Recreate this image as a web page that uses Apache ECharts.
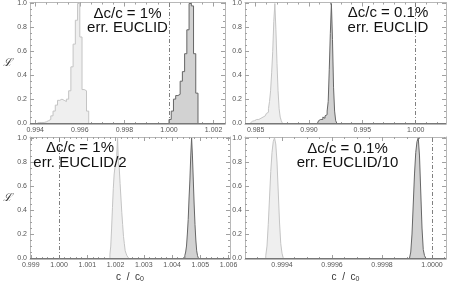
<!DOCTYPE html>
<html><head><meta charset="utf-8">
<script src="https://cdn.jsdelivr.net/npm/echarts@6/dist/echarts.min.js"></script>
<style>html,body{margin:0;padding:0;background:#fff}#c{width:452px;height:284px}</style>
</head><body><div id="c"></div>
<script>
// ---------- DATA ----------
// Panel A (top-left): Δc/c = 1%, err. EUCLID
const aLightEdges = [0.9941,0.9942,0.9943,0.9944,0.9945,0.9946,0.9947,0.9948,0.9949,0.9950,0.9951,0.9952,0.9953,0.9954,0.9955,0.9956,0.9957,0.9958,0.9959,0.9960,0.9961,0.9962,0.9963,0.9964];
const aLightVals  = [0.005,0.005,0.005,0.01,0.02,0.03,0.06,0.10,0.15,0.19,0.20,0.19,0.18,0.20,0.27,0.47,0.66,0.86,1.00,0.72,0.28,0.27,0.10];
const aDarkEdges  = [1.0000,1.0001,1.0002,1.0003,1.0004,1.0005,1.0006,1.0007,1.0008,1.0009,1.0010,1.0011,1.0012,1.0013];
const aDarkVals   = [0.03,0.10,0.20,0.23,0.24,0.35,0.43,0.58,0.78,1.00,0.98,0.58,0.25];
const aTicks = [0.994,0.996,0.998,1.000,1.002];

// Panel B (top-right): Δc/c = 0.1%, err. EUCLID
const bLightEdges = [0.9845,0.9846,0.9847,0.9848,0.9849,0.9850,0.9851,0.9852,0.9853,0.9854,0.9855,0.9856,0.9857,0.9858,0.9859,0.9860,0.9861,0.9862,0.9863,0.9864,0.9865,0.9866,0.9867,0.9868,0.9869,0.9870,0.9871,0.9872,0.9873,0.9874,0.9875];
const bLightVals  = [0.01,0.015,0.02,0.02,0.025,0.03,0.03,0.03,0.035,0.04,0.04,0.05,0.06,0.06,0.07,0.08,0.09,0.12,0.18,0.27,0.42,0.60,0.85,1.00,0.78,0.50,0.27,0.12,0.05,0.02];
const bDarkEdges  = [0.9908,0.9909,0.9910,0.9911,0.9912,0.9913,0.9914,0.9915,0.9916,0.9917,0.9918,0.9919,0.9920,0.9921,0.9922,0.9923,0.9924,0.9925,0.9926];
const bDarkVals   = [0.01,0.02,0.03,0.04,0.03,0.05,0.04,0.06,0.07,0.10,0.18,0.45,0.75,1.00,0.70,0.30,0.10,0.02];
const bTicks = [0.985,0.990,0.995,1.000];

// Panel C (bottom-left): Δc/c = 1%, err. EUCLID/2
const cLightEdges = [1.00180,1.00183,1.00186,1.00189,1.00192,1.00195,1.00198,1.00201,1.00204,1.00207,1.00210,1.00213,1.00216,1.00219,1.00222,1.00225,1.00228,1.00231,1.00234,1.00237,1.00240,1.00243,1.00246];
const cLightVals  = [0.03,0.10,0.25,0.42,0.58,0.70,0.76,0.80,0.85,1.00,0.80,0.75,0.62,0.50,0.38,0.28,0.18,0.12,0.06,0.04,0.02,0.01];
const cDarkEdges  = [1.00445,1.00448,1.00451,1.00454,1.00457,1.00460,1.00463,1.00466,1.00469,1.00472,1.00475,1.00478,1.00481,1.00484,1.00487,1.00490,1.00493];
const cDarkVals   = [0.02,0.05,0.10,0.20,0.32,0.50,0.65,0.85,1.00,0.85,0.65,0.45,0.28,0.15,0.06,0.02];
const cTicks = [0.999,1.000,1.001,1.002,1.003,1.004,1.005,1.006];

// Panel D (bottom-right): Δc/c = 0.1%, err. EUCLID/10
const dLightEdges = [0.999335,0.999340,0.999345,0.999350,0.999355,0.999360,0.999365,0.999370,0.999375,0.999380,0.999385,0.999390,0.999395,0.999400,0.999405];
const dLightVals  = [0.02,0.10,0.28,0.50,0.72,0.88,0.97,1.00,0.95,0.80,0.55,0.30,0.12,0.04];
const dDarkEdges  = [0.999910,0.999915,0.999920,0.999925,0.999930,0.999935,0.999940,0.999945,0.999950,0.999955,0.999960,0.999965,0.999970,0.999975];
const dDarkVals   = [0.01,0.05,0.20,0.45,0.70,0.88,0.97,1.00,0.85,0.55,0.25,0.07,0.02];
const dTicks = [0.9994,0.9996,0.9998,1.0000];

const yTicks = [0,0.2,0.4,0.6,0.8,1.0];
const refValue = 1.0;
const labelLines = [
  ['Δc/c = 1%','err. EUCLID'],
  ['Δc/c = 0.1%','err. EUCLID'],
  ['Δc/c = 1%','err. EUCLID/2'],
  ['Δc/c = 0.1%','err. EUCLID/10']
];
// ---------- END DATA ----------

const FONT = 'Liberation Sans';
const frameColor = '#b8b8b8';
const tickColor = '#a0a0a0';
const lightFill = '#efefef', lightLine = '#c4c4c4';
const darkFill = '#d2d2d2', darkLine = '#666666';

const panels = [
  {grid:{left:30,top:2,width:195,height:122}, xmin:0.993767, xmax:1.002511, ticks:aTicks, dec:3, step:0.002, sub:4,
   light:[aLightEdges,aLightVals], dark:[aDarkEdges,aDarkVals], yName:true, xName:false, txt:[127.5,14,27.5]},
  {grid:{left:245,top:2,width:201,height:122}, xmin:0.984002, xmax:1.00284, ticks:bTicks, dec:3, step:0.005, sub:5,
   light:[bLightEdges,bLightVals], dark:[bDarkEdges,bDarkVals], yName:false, xName:false, txt:[388,13,27.5]},
  {grid:{left:30,top:137,width:200,height:122}, xmin:0.998972, xmax:1.006049, ticks:cTicks, dec:3, step:0.001, sub:5,
   light:[cLightEdges,cLightVals], dark:[cDarkEdges,cDarkVals], yName:true, xName:true, txt:[80,148,162.5]},
  {grid:{left:245,top:137,width:201,height:122}, xmin:0.999252, xmax:1.000056, ticks:dTicks, dec:4, step:0.0002, sub:4,
   light:[dLightEdges,dLightVals], dark:[dDarkEdges,dDarkVals], yName:false, xName:true, txt:[347.5,148.5,162.5]}
];
const YMIN = -0.008, YMAX = 1.008;

function minors(min, max, step, sub) {
  const ms = step / sub, out = [];
  const k0 = Math.ceil(min / ms - 1e-9), k1 = Math.floor(max / ms + 1e-9);
  for (let k = k0; k <= k1; k++) out.push(+(k * ms).toFixed(10));
  return out;
}
function hist(edges, vals) {
  const d = [[edges[0], 0]];
  for (let i = 0; i < vals.length; i++) d.push([edges[i], vals[i]]);
  d.push([edges[vals.length], 0]);
  return d;
}

const grids = [], xAxes = [], yAxes = [], series = [], graphics = [];
panels.forEach((p, gi) => {
  grids.push(Object.assign({containLabel:false}, p.grid));
  const xmin = minors(p.xmin, p.xmax, p.step, p.sub);
  const ymin = minors(YMIN, YMAX, 0.2, 4);
  ['bottom','top'].forEach(pos => {
    [true,false].forEach(major => {
      const ax = {type:'value', gridIndex:gi, position:pos, min:p.xmin, max:p.xmax, scale:true,
        axisLine:{show:major, onZero:false, lineStyle:{color:frameColor,width:1}},
        axisTick:{show:true, inside:true, length:major?4:2, customValues: major?p.ticks:xmin, lineStyle:{color:tickColor,width:1}},
        axisLabel:{show: major && pos==='bottom', customValues:p.ticks, formatter:v=>v.toFixed(p.dec), fontSize:7, color:'#555', margin:3, fontFamily:FONT},
        splitLine:{show:false}};
      if (major && pos==='bottom' && p.xName) {
        ax.name = 'c  /  c{s|0}';
        ax.nameLocation = 'middle';
        ax.nameGap = 12;
        ax.nameTextStyle = {fontSize:10, color:'#333', fontFamily:FONT, verticalAlign:'top',
          rich:{s:{fontSize:7, color:'#333', fontFamily:FONT, padding:[5,0,0,0]}}};
      }
      xAxes.push(ax);
    });
  });
  ['left','right'].forEach(pos => {
    [true,false].forEach(major => {
      const ax = {type:'value', gridIndex:gi, position:pos, min:YMIN, max:YMAX,
        axisLine:{show:major, onZero:false, lineStyle:{color:frameColor,width:1}},
        axisTick:{show:true, inside:true, length:major?4:2, customValues: major?yTicks:ymin, lineStyle:{color:tickColor,width:1}},
        axisLabel:{show: major && pos==='left', customValues:yTicks, formatter:v=>v.toFixed(1), fontSize:7, color:'#555', margin:3, fontFamily:FONT},
        splitLine:{show:false}};
      if (major && pos==='left' && p.yName) {
        ax.name = 'ℒ';
        ax.nameLocation = 'middle';
        ax.nameRotate = 0;
        ax.nameGap = 13;
        ax.nameTextStyle = {fontSize:11, color:'#333', fontFamily:'DejaVu Serif', fontStyle:'italic'};
      }
      yAxes.push(ax);
    });
  });
  const xi = gi*4, yi = gi*4;
  series.push({type:'line', xAxisIndex:xi, yAxisIndex:yi, step:'end', symbol:'none', silent:true, animation:false,
    data: hist(p.light[0], p.light[1]),
    lineStyle:{color:lightLine,width:1}, areaStyle:{color:lightFill,opacity:1},
    markLine:{symbol:['none','none'], silent:true, animation:false, label:{show:false},
      lineStyle:{color:'#777',width:1,type:'solid'}, data:[{yAxis:0}]}});
  series.push({type:'line', xAxisIndex:xi, yAxisIndex:yi, step:'end', symbol:'none', silent:true, animation:false,
    data: hist(p.dark[0], p.dark[1]),
    lineStyle:{color:darkLine,width:1}, areaStyle:{color:darkFill,opacity:1},
    markLine:{symbol:['none','none'], silent:true, animation:false, label:{show:false},
      lineStyle:{color:'#808080',width:1,type:[4,2,1,2]}, data:[{xAxis:refValue}]}});
  const L = labelLines[gi];
  graphics.push({type:'text', x:p.txt[0], y:p.txt[1], z:100, style:{text:L[0], fontSize:15, fontFamily:FONT, fill:'#111', textAlign:'center', textVerticalAlign:'middle'}});
  graphics.push({type:'text', x:p.txt[0], y:p.txt[2], z:100, style:{text:L[1], fontSize:15, fontFamily:FONT, fill:'#111', textAlign:'center', textVerticalAlign:'middle'}});
});

const chart = echarts.init(document.getElementById('c'), null, {renderer:'canvas'});
chart.setOption({animation:false, backgroundColor:'#fff', grid:grids, xAxis:xAxes, yAxis:yAxes, series:series, graphic:graphics});
</script></body></html>
